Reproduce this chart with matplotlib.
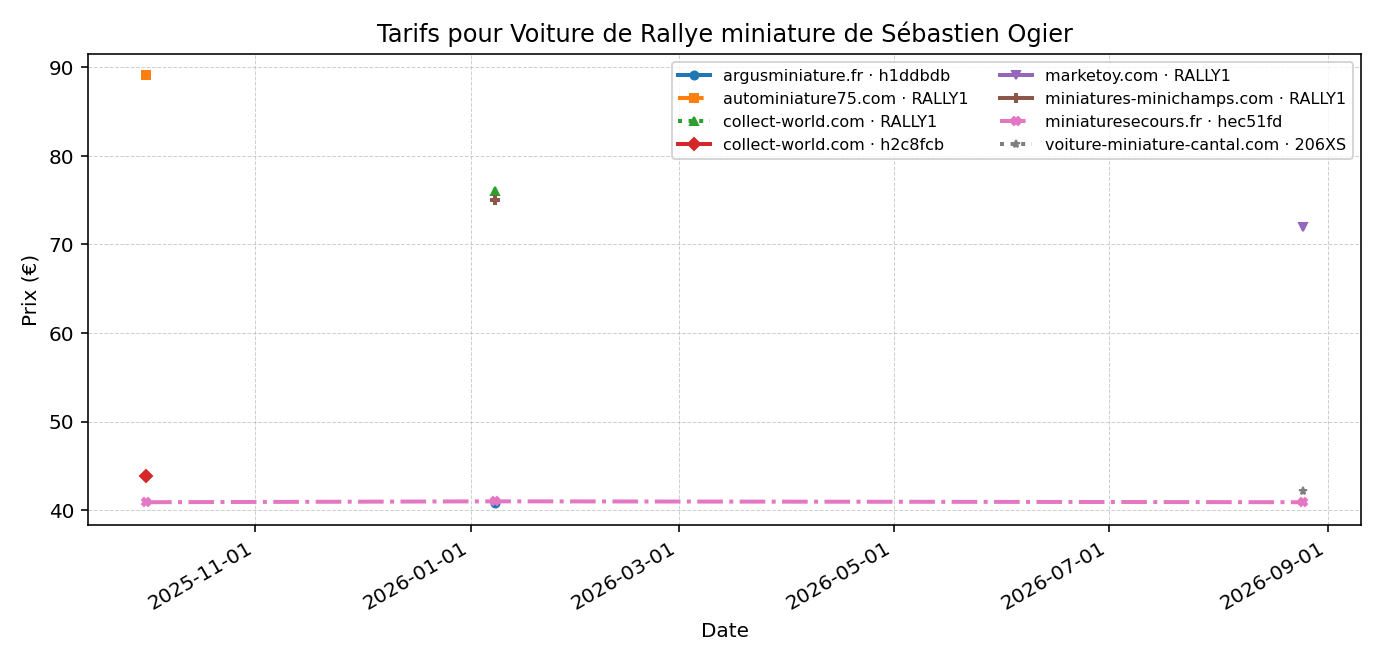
import matplotlib
matplotlib.use("Agg")
import matplotlib.pyplot as plt
import matplotlib.dates as mdates
import pandas as pd

labels = [
    "argusminiature.fr · h1ddbdb",
    "autominiature75.com · RALLY1",
    "collect-world.com · RALLY1",
    "collect-world.com · h2c8fcb",
    "marketoy.com · RALLY1",
    "miniatures-minichamps.com · RALLY1",
    "miniaturesecours.fr · hec51fd",
    "voiture-miniature-cantal.com · 206XS",
]
dates = [
    ["2026-01-08"],
    ["2025-10-01"],
    ["2026-01-08"],
    ["2025-10-01"],
    ["2026-08-25"],
    ["2026-01-08"],
    ["2025-10-01", "2026-01-08", "2026-08-25"],
    ["2026-08-25"],
]
prices = [
    [40.8],
    [89.1],
    [76.0],
    [43.9],
    [72.0],
    [75.0],
    [40.9, 41.0, 40.9],
    [42.2],
]
markers = ["o", "s", "^", "D", "v", "P", "X", "*"]
styles = ["-", "-.", ":", "-", "-", "-", "-.", ":"]

fig, ax = plt.subplots(figsize=(9.6, 4.6), dpi=144)
for lab, d, p, m, ls in zip(labels, dates, prices, markers, styles):
    ax.plot(pd.to_datetime(d), p, marker=m, linestyle=ls, linewidth=2,
            markersize=4, label=lab)

ax.set_title("Tarifs pour Voiture de Rallye miniature de Sébastien Ogier")
ax.set_xlabel("Date")
ax.set_ylabel("Prix (€)")
ax.grid(True, linestyle="--", linewidth=0.5, alpha=0.6)
ax.xaxis.set_major_locator(mdates.MonthLocator(bymonth=[1, 3, 5, 7, 9, 11]))
ax.xaxis.set_major_formatter(mdates.DateFormatter("%Y-%m-%d"))
ax.legend(ncol=2, fontsize=8, loc="upper right")
fig.autofmt_xdate()
fig.tight_layout()
fig.savefig("out.png", dpi=144)
